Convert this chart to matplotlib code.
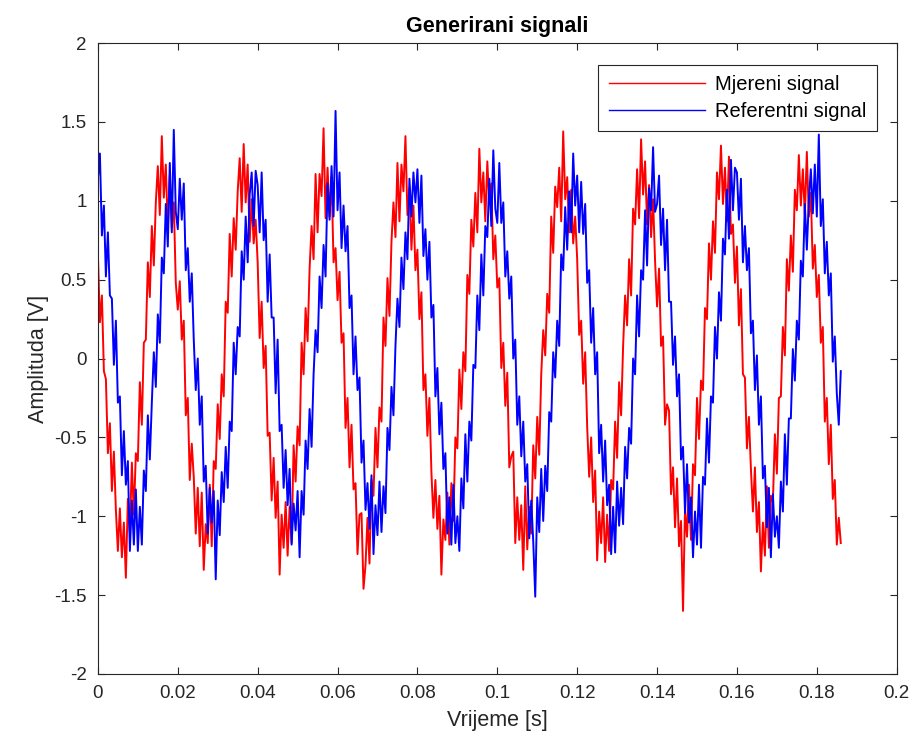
import matplotlib
matplotlib.use("Agg")
import matplotlib.pyplot as plt
import numpy as np

plt.rcParams["font.family"] = ["Liberation Sans", "DejaVu Sans"]

SAMPLE_STEP = 0.0005  # s

mjereni = [
    0.66, 0.23, 0.40, -0.08, -0.13, -0.60, -0.41, -0.84, -0.59, -0.96,
    -1.22, -0.95, -1.26, -1.04, -1.39, -0.89, -1.10, -0.66, -0.99, -0.60,
    -0.65, -0.15, -0.42, 0.10, 0.12, 0.61, 0.39, 0.84, 0.59, 0.99,
    1.22, 0.91, 1.41, 1.02, 1.23, 0.83, 1.16, 0.83, 0.99, 0.48,
    0.31, 0.49, 0.12, 0.24, -0.36, -0.25, -0.77, -0.54, -0.75, -1.11,
    -0.82, -1.19, -0.85, -1.34, -1.05, -1.17, -0.80, -1.19, -0.65, -0.70,
    -0.29, -0.51, -0.10, -0.24, 0.36, 0.29, 0.79, 0.52, 0.89, 0.69,
    1.06, 1.27, 0.93, 1.36, 0.99, 1.23, 0.74, 1.01, 0.73, 0.88,
    0.61, 0.13, 0.36, -0.06, 0.08, -0.49, -0.47, -0.90, -0.63, -1.01,
    -0.78, -1.37, -0.99, -1.20, -0.91, -1.25, -0.94, -1.17, -0.55, -0.78,
    -0.43, -0.55, 0.10, -0.10, 0.32, 0.11, 0.57, 0.84, 0.63, 1.17,
    0.80, 1.17, 1.03, 1.46, 0.89, 1.21, 0.90, 1.15, 0.61, 0.70,
    0.37, 0.55, 0.10, 0.16, -0.44, -0.25, -0.69, -0.42, -0.83, -0.79,
    -1.24, -0.99, -0.98, -1.46, -1.31, -1.01, -1.30, -0.77, -0.87, -0.44,
    -0.69, -0.31, -0.40, 0.26, 0.08, 0.51, 0.27, 0.74, 0.99, 0.77,
    1.24, 0.87, 1.23, 1.06, 1.41, 0.91, 1.08, 0.69, 0.97, 0.56,
    0.69, 0.25, 0.42, -0.20, -0.10, -0.49, -0.25, -0.72, -1.01, -0.77,
    -1.08, -0.87, -1.37, -1.02, -1.15, -0.85, -1.18, -0.79, -1.03, -0.50,
    -0.57, -0.07, -0.32, 0.04, -0.08, 0.53, 0.41, 0.88, 0.71, 1.05,
    0.80, 1.33, 0.99, 1.18, 0.87, 1.25, 0.98, 1.11, 0.63, 0.78,
    0.45, 0.51, -0.06, 0.10, -0.30, -0.09, -0.69, -0.62, -0.59, -1.17,
    -0.88, -1.15, -0.93, -1.34, -0.81, -1.21, -0.94, -1.11, -0.55, -0.76,
    -0.37, -0.61, -0.10, 0.18, 0.02, 0.41, 0.29, 0.90, 0.67, 1.09,
    0.96, 1.21, 0.87, 1.44, 1.01, 1.15, 0.80, 1.07, 0.73, 0.90,
    0.63, 0.15, 0.24, -0.16, 0.04, -0.43, -0.75, -0.50, -0.91, -0.71,
    -1.28, -0.97, -1.17, -0.88, -1.29, -0.99, -1.22, -0.77, -0.83, -0.40,
    -0.63, -0.15, -0.36, 0.08, 0.40, 0.21, 0.63, 0.40, 0.95, 0.85,
    1.20, 0.89, 1.39, 1.04, 1.25, 0.85, 1.10, 0.77, 1.01, 0.62,
    0.33, 0.57, 0.08, 0.14, -0.42, -0.29, -0.33, -0.86, -0.69, -1.07,
    -0.76, -1.19, -1.03, -1.60, -0.95, -1.13, -0.80, -1.15, -0.67, -0.74,
    -0.25, -0.51, -0.14, -0.20, 0.32, 0.25, 0.73, 0.50, 0.87, 0.67,
    1.18, 1.01, 1.35, 0.98, 1.21, 0.87, 1.28, 0.79, 0.85, 0.48,
    0.71, 0.21, 0.44, -0.10, -0.12, -0.57, -0.37, -0.70, -0.97, -0.69,
    -1.10, -0.91, -1.35, -1.04, -1.25, -0.81, -1.20, -0.87, -0.91, -0.48,
    -0.73, -0.25, -0.24, 0.20, 0.02, 0.63, 0.43, 0.78, 0.55, 1.07,
    0.94, 1.29, 0.97, 1.20, 0.91, 1.31, 0.90, 1.05, 0.57, 0.72,
    0.39, 0.53, 0.10, 0.20, -0.40, -0.25, -0.67, -0.42, -0.89, -0.77,
    -1.18, -1.01, -1.17,
]

# reference signal (blue)
referentni = [
    1.14, 1.30, 0.78, 0.97, 0.52, 0.80, 0.40, 0.38, -0.04, 0.24,
    -0.28, -0.24, -0.74, -0.46, -0.80, -0.65, -1.22, -0.90, -1.18, -0.83,
    -1.22, -0.94, -1.18, -0.71, -0.84, -0.36, -0.64, -0.28, 0.04, -0.18,
    0.28, 0.10, 0.64, 0.54, 0.98, 0.71, 1.24, 0.80, 1.45, 0.93,
    0.82, 1.14, 0.88, 1.11, 0.56, 0.70, 0.36, 0.54, 0.12, -0.20,
    0.00, -0.42, -0.24, -0.78, -0.68, -1.11, -0.82, -1.04, -0.84, -1.40,
    -0.90, -1.12, -0.72, -0.91, -0.56, -0.82, -0.40, -0.46, 0.10, -0.10,
    0.20, 0.14, 0.68, 0.50, 0.90, 0.61, 1.04, 1.18, 0.84, 1.19,
    1.10, 0.80, 1.18, 0.75, 0.88, 0.36, 0.66, 0.26, 0.26, -0.22,
    0.12, -0.46, -0.42, -0.82, -0.58, -0.93, -0.70, -1.18, -0.92, -1.09,
    -0.84, -1.26, -0.84, -0.99, -0.52, -0.70, -0.32, -0.56, -0.10, 0.18,
    0.04, 0.52, 0.32, 0.72, 0.52, 1.11, 0.88, 1.22, 0.90, 1.57,
    0.94, 1.18, 0.70, 0.97, 0.68, 0.84, 0.32, 0.40, -0.10, 0.14,
    -0.20, -0.12, -0.66, -0.52, -0.96, -0.79, -1.08, -0.74, -1.24, -0.93,
    -1.12, -0.78, -1.10, -0.81, -0.98, -0.44, -0.58, -0.18, -0.36, 0.08,
    0.38, 0.20, 0.64, 0.44, 0.80, 0.63, 1.14, 0.90, 1.18, 0.99,
    1.20, 0.86, 1.16, 0.65, 0.82, 0.50, 0.74, 0.26, 0.34, -0.24,
    -0.06, -0.48, -0.28, -0.70, -0.60, -1.11, -0.88, -1.18, -0.80, -1.17,
    -1.00, -1.22, -0.76, -0.95, -0.48, -0.78, -0.40, -0.52, -0.04, -0.06,
    0.40, 0.18, 0.66, 0.40, 0.84, 0.77, 1.14, 0.84, 1.32, 0.95,
    0.86, 1.24, 0.86, 0.99, 0.52, 0.68, 0.38, 0.52, 0.00, 0.12,
    -0.42, -0.24, -0.62, -0.40, -0.78, -0.67, -1.14, -0.90, -1.16, -1.51,
    -0.88, -1.10, -0.70, -1.03, -0.68, -0.84, -0.34, -0.40, 0.04, -0.12,
    0.24, 0.08, 0.66, 0.56, 0.96, 0.69, 1.06, 0.80, 1.30, 0.97,
    1.16, 0.80, 1.12, 0.79, 0.98, 0.48, 0.56, 0.10, 0.32, -0.10,
    0.04, -0.60, -0.42, -0.78, -0.52, -0.93, -0.80, -1.24, -0.94, -1.23,
    -0.78, -1.06, -0.82, -1.05, -0.56, -0.76, -0.44, -0.54, 0.00, -0.10,
    0.40, 0.14, 0.56, 0.50, 0.94, 0.59, 1.08, 0.94, 1.34, 0.93,
    0.98, 1.16, 0.72, 0.95, 0.56, 0.88, 0.36, 0.36, -0.04, 0.14,
    -0.24, -0.10, -0.64, -0.56, -0.98, -0.67, -1.04, -0.88, -1.26, -0.97,
    -1.18, -0.80, -1.20, -0.75, -0.80, -0.38, -0.66, -0.24, -0.28, 0.20,
    0.00, 0.42, 0.24, 0.76, 0.66, 1.07, 0.76, 1.26, 0.94, 1.21,
    1.18, 0.88, 1.14, 0.61, 0.84, 0.56, 0.70, 0.16, 0.24, -0.20,
    0.02, -0.42, -0.24, -0.76, -0.68, -1.07, -0.82, -1.26, -0.86, -1.13,
    -1.00, -1.20, -0.78, -0.97, -0.48, -0.80, -0.38, -0.38, 0.06, -0.14,
    0.24, 0.12, 0.62, 0.52, 0.98, 0.69, 1.00, 1.20, 0.92, 1.23,
    0.90, 1.42, 0.84, 1.01, 0.54, 0.74, 0.40, 0.54, -0.02, 0.14,
    -0.22, -0.42, -0.08,
]

x_ticks = [0, 0.02, 0.04, 0.06, 0.08, 0.1, 0.12, 0.14, 0.16, 0.18, 0.2]
x_tick_labels = ["0", "0.02", "0.04", "0.06", "0.08", "0.1", "0.12", "0.14", "0.16", "0.18", "0.2"]
y_ticks = [-2, -1.5, -1, -0.5, 0, 0.5, 1, 1.5, 2]
y_tick_labels = ["-2", "-1.5", "-1", "-0.5", "0", "0.5", "1", "1.5", "2"]

AXIS_GREY = "#262626"


def main() -> None:
    t_meas = np.arange(len(mjereni)) * SAMPLE_STEP
    t_ref = np.arange(len(referentni)) * SAMPLE_STEP

    fig = plt.figure(figsize=(9.15, 7.56), dpi=100)
    ax = fig.add_axes([0.107, 0.1085, 0.873, 0.8345])

    ax.plot(t_meas, mjereni, color="red", linewidth=1.4, label="Mjereni signal")
    ax.plot(t_ref, referentni, color="blue", linewidth=1.4, label="Referentni signal")

    ax.set_xlim(0, 0.2)
    ax.set_ylim(-2, 2)
    ax.set_xticks(x_ticks)
    ax.set_xticklabels(x_tick_labels)
    ax.set_yticks(y_ticks)
    ax.set_yticklabels(y_tick_labels)
    ax.tick_params(direction="in", top=True, right=True, length=5, width=0.8,
                   colors=AXIS_GREY, labelsize=13.5, pad=8)
    for spine in ax.spines.values():
        spine.set_color(AXIS_GREY)
        spine.set_linewidth(0.8)

    ax.set_title("Generirani signali", fontsize=15.5, fontweight="bold", pad=8)
    ax.set_xlabel("Vrijeme [s]", fontsize=15.5, color=AXIS_GREY, labelpad=6)
    ax.set_ylabel("Amplituda [V]", fontsize=15.5, color=AXIS_GREY, labelpad=4)

    leg = ax.legend(loc="upper right", bbox_to_anchor=(0.975, 0.965), borderaxespad=0,
                    fancybox=False, framealpha=1, edgecolor=AXIS_GREY, fontsize=14.5,
                    handlelength=4.8, handletextpad=0.5, borderpad=0.5, labelspacing=0.4)
    leg.get_frame().set_linewidth(0.8)
    for line in leg.get_lines():
        line.set_linewidth(1.0)

    fig.savefig("out.png", dpi=100)


if __name__ == "__main__":
    main()
